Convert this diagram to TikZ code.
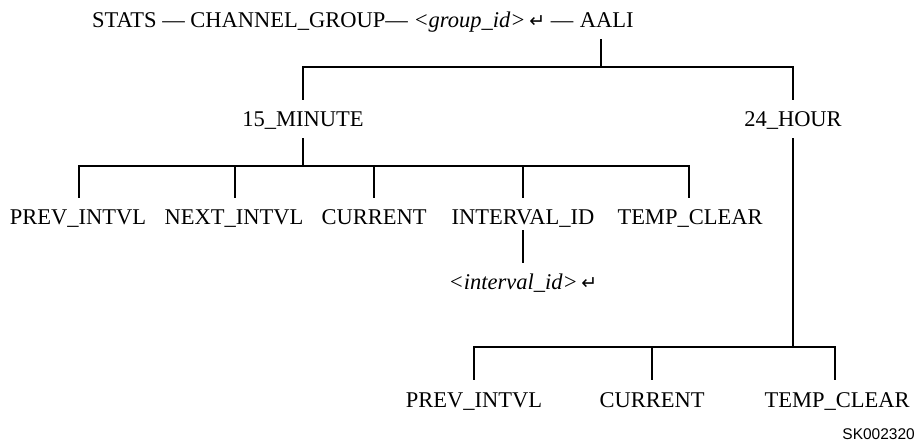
\documentclass[tikz,border=0pt]{standalone}
\usepackage{fontspec}
\setmainfont{Liberation Serif}
\newfontfamily\arrowfont{DejaVu Sans}
\newfontfamily\skfont{Liberation Sans}
\newcommand{\retsym}{{\arrowfont\fontsize{19}{19}\selectfont ↵}}
\tikzset{
  lbl/.style={inner xsep=0pt, inner ysep=11pt, text height=16pt, text depth=0pt,
    font=\fontsize{22.5}{22.5}\selectfont},
  tree/.style={draw=black, line width=2.6pt, line join=miter}
}
\begin{document}
\begin{tikzpicture}[x=1pt,y=-1pt]
\useasboundingbox (0,0) rectangle (918,443);
% top line
\node[lbl, anchor=west] (head) at (92,20) {STATS — CHANNEL\_GROUP— \textit{<group\_id>}\,\retsym\ —};
\node[lbl, anchor=west, inner xsep=6pt] (aali) at (head.east) {AALI};
% second level
\node[lbl] (m15) at (303,119) {15\_MINUTE};
\node[lbl] (h24) at (793,119) {24\_HOUR};
% 15 minute leaves
\node[lbl] (l1) at (78,217) {PREV\_INTVL};
\node[lbl] (l2) at (234,217) {NEXT\_INTVL};
\node[lbl] (l3) at (374,217) {CURRENT};
\node[lbl] (l4) at (523,217) {INTERVAL\_ID};
\node[lbl] (l5) at (690,217) {TEMP\_CLEAR};
\node[lbl] (ival) at (523,282) {\textit{<interval\_id>}\,\retsym};
% 24 hour leaves
\node[lbl] (b1) at (474,399) {PREV\_INTVL};
\node[lbl] (b2) at (652,399) {CURRENT};
\node[lbl] (b3) at (837,399) {TEMP\_CLEAR};
\node[anchor=base east, inner sep=0pt, font=\skfont\fontsize{15.5}{15.5}\selectfont] (sk) at (915,439) {SK002320};
% junctions
\coordinate (j1) at (601,67);
\coordinate (j2) at (303,166);
\coordinate (j3) at (793,347);
% connectors
\draw[tree] (aali.south -| j1) -- (j1);
\draw[tree] (m15.north) -- (m15.north |- j1) -- (h24.north |- j1) -- (h24.north);
\draw[tree] (m15.south) -- (j2);
\draw[tree] ([xshift=1pt]l1.north) -- ([xshift=1pt]l1.north |- j2) -- ([xshift=-1pt]l5.north |- j2) -- ([xshift=-1pt]l5.north);
\draw[tree] ([xshift=1pt]l2.north) -- ([xshift=1pt]l2.north |- j2);
\draw[tree] (l3.north) -- (l3.north |- j2);
\draw[tree] (l4.north) -- (l4.north |- j2);
\draw[tree] ([yshift=6pt]l4.south) -- (ival.north);
\draw[tree] (h24.south) -- (j3);
\draw[tree] (b1.north) -- (b1.north |- j3) -- ([xshift=-2pt]b3.north |- j3) -- ([xshift=-2pt]b3.north);
\draw[tree] (b2.north) -- (b2.north |- j3);
\end{tikzpicture}
\end{document}
